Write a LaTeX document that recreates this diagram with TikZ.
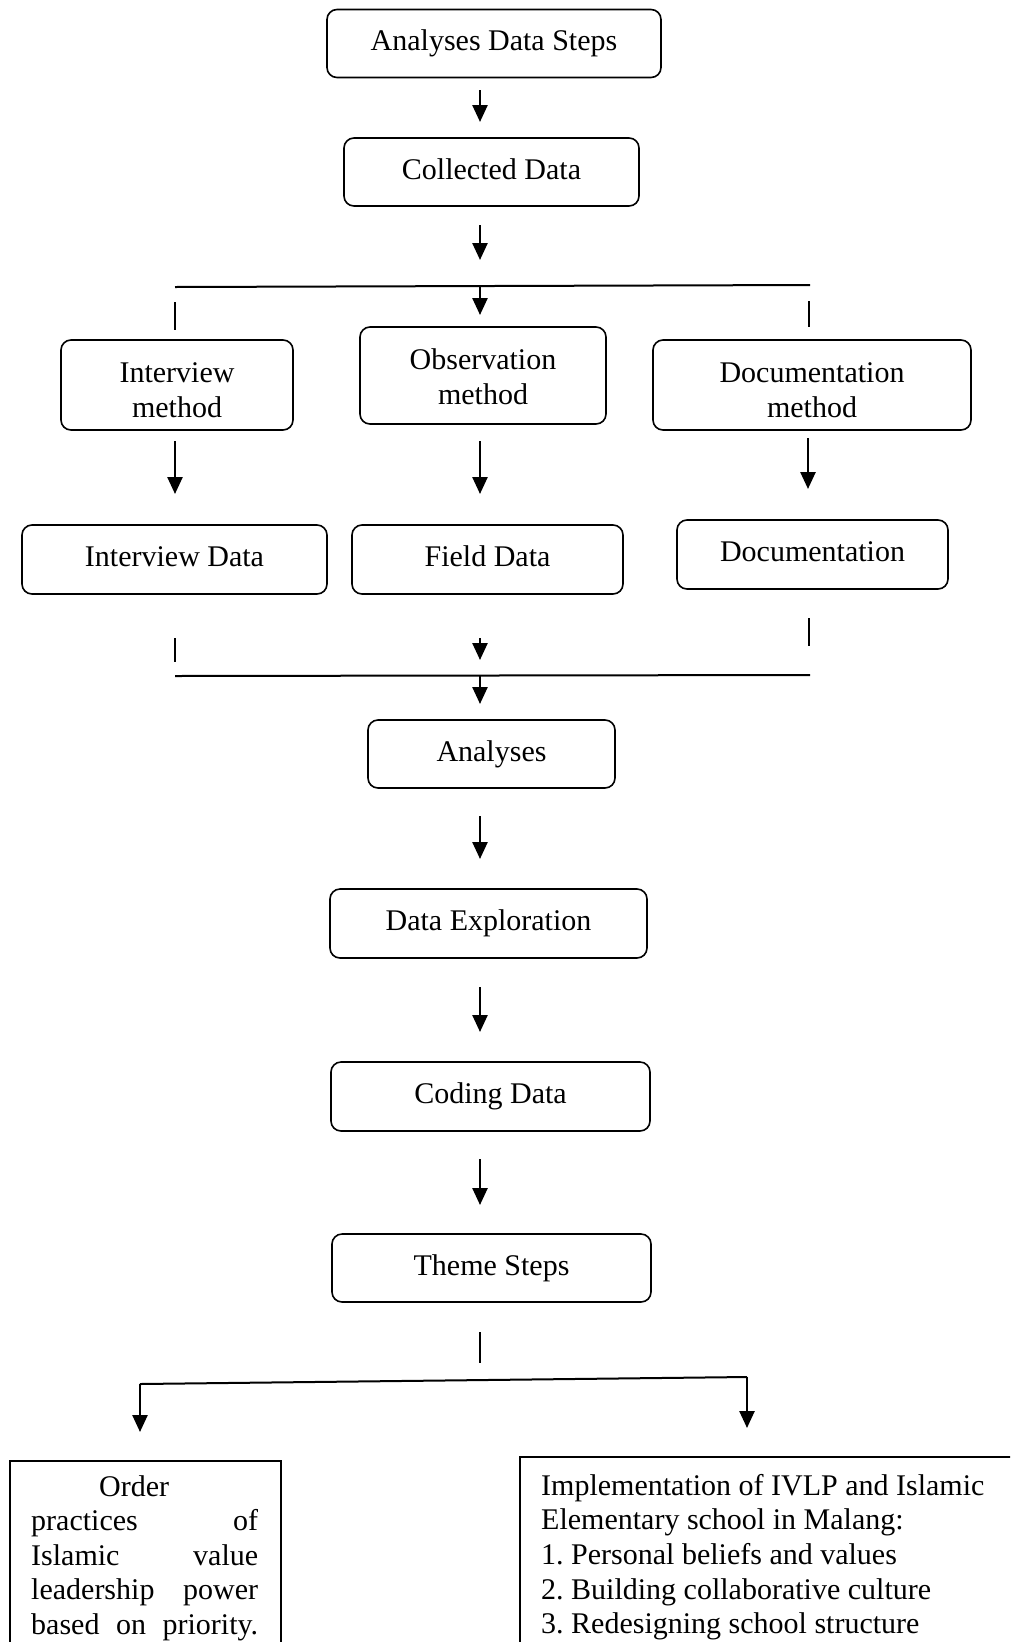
\documentclass[tikz,border=0pt]{standalone}
\usepackage{fontspec}
\setmainfont{Liberation Serif}
\usetikzlibrary{arrows.meta}
\begin{document}
\frenchspacing
\begin{tikzpicture}[x=1pt,y=-1pt,
  box/.style={draw, line width=1.6pt, rounded corners=10pt, align=center, inner sep=0pt,
    text height=20.5pt, text depth=6.5pt,
    font=\fontsize{30}{34.6}\selectfont},
  sqbox/.style={draw, line width=1.6pt, inner sep=0pt, anchor=north west},
  txt/.style={inner sep=0pt, anchor=north west, align=left, font=\fontsize{30}{34.6}\selectfont},
  arr/.style={line width=2.5pt, -{Triangle[length=17pt,width=15pt]}},
  ln/.style={line width=2pt}]
\useasboundingbox (0,0) rectangle (1010,1642);
\clip (0,0) rectangle (1010,1642);

% main boxes
\node[box, minimum width=334pt, minimum height=68pt] (ads) at (494,43.5) {Analyses Data Steps};
\node[box, minimum width=295pt, minimum height=68pt] (cd) at (491.5,172) {Collected Data};
\node[box, minimum width=232pt, minimum height=90pt, text height=65pt, text depth=0pt] (im) at (177,385) {Interview\\method};
\node[box, minimum width=246pt, minimum height=97pt, text height=57pt, text depth=0pt] (om) at (483,375.5) {Observation\\method};
\node[box, minimum width=318pt, minimum height=90pt, text height=65pt, text depth=0pt] (dm) at (812,385) {Documentation\\method};
\node[box, minimum width=305pt, minimum height=69pt] (id) at (174.5,559.5) {Interview Data};
\node[box, minimum width=271pt, minimum height=69pt] (fd) at (487.5,559.5) {Field Data};
\node[box, minimum width=271pt, minimum height=69pt] (doc) at (812.5,554.5) {Documentation};
\node[box, minimum width=247pt, minimum height=68pt] (an) at (491.5,754) {Analyses};
\node[box, minimum width=317pt, minimum height=69pt] (de) at (488.5,923.5) {Data Exploration};
\node[box, minimum width=319pt, minimum height=69pt] (cod) at (490.5,1096.5) {Coding Data};
\node[box, minimum width=319pt, minimum height=68pt] (ts) at (491.5,1268) {Theme Steps};

% bottom boxes
\node[sqbox, minimum width=271pt, minimum height=260pt] (lb) at (9,1460) {};
\node[sqbox, minimum width=520pt, minimum height=260pt] (rb) at (519,1456) {};
\node[txt, text width=227pt] (lt) at (31,1475) {\hspace*{68pt}Order\\
practices\hfill of\\
Islamic\hfill value\\
leadership\hfill power\\
based\hfill on\hfill priority.};
\node[txt] (rt) at (541,1474) {Implementation of IVLP and Islamic\\
Elementary school in Malang:\\
1. Personal beliefs and values\\
2. Building collaborative culture\\
3. Redesigning school structure};

% connector coordinates
\coordinate (a1s) at (480,90);   \coordinate (a1e) at (480,122);
\coordinate (a2s) at (480,225);  \coordinate (a2e) at (480,260);
\coordinate (h1l) at (175,287);  \coordinate (h1r) at (810,285);
\coordinate (h1m) at (480,286);  \coordinate (a3e) at (480,315);
\coordinate (t1a) at (175,302);  \coordinate (t1b) at (175,330);
\coordinate (t2a) at (809,301);  \coordinate (t2b) at (809,327);
\coordinate (b1s) at (175,441);  \coordinate (b1e) at (175,494);
\coordinate (b2s) at (480,441);  \coordinate (b2e) at (480,494);
\coordinate (b3s) at (808,438);  \coordinate (b3e) at (808,489);
\coordinate (t3a) at (175,638);  \coordinate (t3b) at (175,662);
\coordinate (t4a) at (809,618);  \coordinate (t4b) at (809,646);
\coordinate (c1s) at (480,638);  \coordinate (c1e) at (480,660);
\coordinate (h2l) at (175,676);  \coordinate (h2r) at (810,675);
\coordinate (h2m) at (480,676);  \coordinate (c2e) at (480,704);
\coordinate (d1s) at (480,816);  \coordinate (d1e) at (480,859);
\coordinate (d2s) at (480,987);  \coordinate (d2e) at (480,1032);
\coordinate (d3s) at (480,1159); \coordinate (d3e) at (480,1205);
\coordinate (t5a) at (480,1332); \coordinate (t5b) at (480,1363);
\coordinate (h3l) at (140,1384); \coordinate (h3r) at (747,1377);
\coordinate (e1e) at (140,1432); \coordinate (e2e) at (747,1428);

% connectors
\draw[arr] (a1s) -- (a1e);
\draw[arr] (a2s) -- (a2e);
\draw[ln] (h1l) -- (h1r);
\draw[arr] (h1m) -- (a3e);
\draw[ln] (t1a) -- (t1b);
\draw[ln] (t2a) -- (t2b);
\draw[arr] (b1s) -- (b1e);
\draw[arr] (b2s) -- (b2e);
\draw[arr] (b3s) -- (b3e);
\draw[ln] (t3a) -- (t3b);
\draw[ln] (t4a) -- (t4b);
\draw[arr] (c1s) -- (c1e);
\draw[ln] (h2l) -- (h2r);
\draw[arr] (h2m) -- (c2e);
\draw[arr] (d1s) -- (d1e);
\draw[arr] (d2s) -- (d2e);
\draw[arr] (d3s) -- (d3e);
\draw[ln] (t5a) -- (t5b);
\draw[arr] (e1e |- h3l) -- (e1e);
\draw[ln] (h3l) -- (h3r);
\draw[arr] (e2e |- h3r) -- (e2e);
\end{tikzpicture}
\end{document}
